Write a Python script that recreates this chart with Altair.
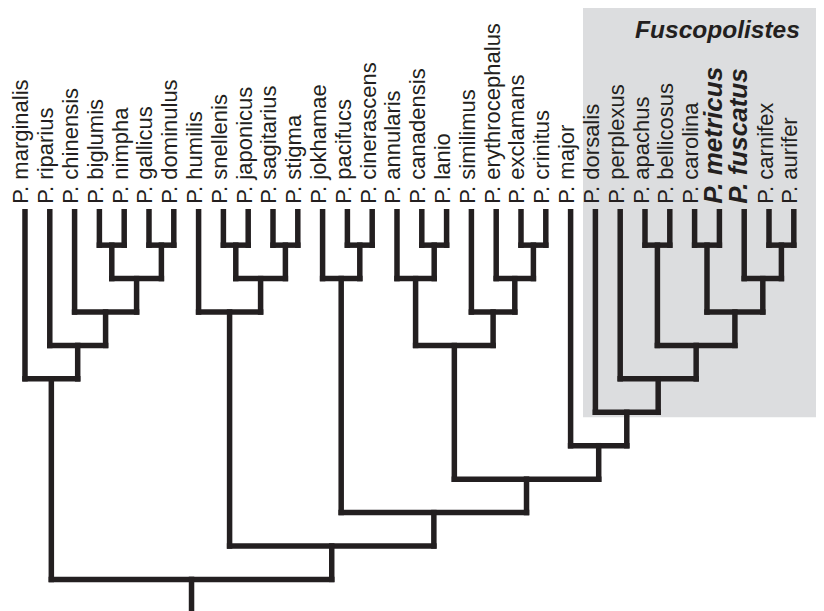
import altair as alt
import pandas as pd

# ---- data -------------------------------------------------------------
clade_A = ("marginalis", ("riparius", ("chinensis", (("biglumis", "nimpha"), ("gallicus", "dominulus")))))
clade_B = ("humilis", (("snellenis", "japonicus"), ("sagitarius", "stigma")))
clade_C = ("jokhamae", ("pacifucs", "cinerascens"))
clade_D = (("annularis", ("canadensis", "lanio")),
           ("similimus", ("erythrocephalus", ("exclamans", "crinitus"))))
clade_F = ("dorsalis", ("perplexus", (("apachus", "bellicosus"),
                                      (("carolina", "metricus"), ("fuscatus", ("carnifex", "aurifer"))))))
tree = (clade_A, (clade_B, (clade_C, (clade_D, ("major", clade_F)))))

highlight = ["metricus", "fuscatus"]
group_name = "Fuscopolistes"
genus = "P."

# ---- layout from the tree ---------------------------------------------
leaves = []
def collect(n):
    if isinstance(n, str):
        leaves.append(n)
    else:
        for c in n:
            collect(c)
collect(tree)
idx = {name: i for i, name in enumerate(leaves)}

segs = []
def layout(n):
    """returns (x, depth)"""
    if isinstance(n, str):
        return idx[n], 0
    kids = [layout(c) for c in n]
    d = max(k[1] for k in kids) + 1
    xs = [k[0] for k in kids]
    x = (min(xs) + max(xs)) / 2
    for kx, kd in kids:
        segs.append({"x": kx, "x2": kx, "y": kd, "y2": d})
    segs.append({"x": min(xs), "x2": max(xs), "y": d, "y2": d})
    return x, d

root_x, root_d = layout(tree)
segs.append({"x": root_x, "x2": root_x, "y": root_d, "y2": root_d + 1})
seg_df = pd.DataFrame(segs)

lab_df = pd.DataFrame({
    "x": list(range(len(leaves))),
    "y": [0] * len(leaves),
    "label": [f"{genus} {n}" for n in leaves],
    "bold": [n in highlight for n in leaves],
})

def leaves_of(n):
    out = []
    def c(m):
        if isinstance(m, str):
            out.append(m)
        else:
            for k in m:
                c(k)
    c(n)
    return out

def depth_of(n):
    return 0 if isinstance(n, str) else max(depth_of(c) for c in n) + 1

f_leaves = leaves_of(clade_F)
box_df = pd.DataFrame({"x": [idx[f_leaves[0]] - 0.5], "y": [depth_of(clade_F) + 0.15]})
title_df = pd.DataFrame({"x": [idx[f_leaves[-1]]], "t": [group_name]})

# ---- chart ------------------------------------------------------------
W, H = 808, 603
xs = alt.Scale(domain=[-0.685, 31.895], nice=False, zero=False)
ys = alt.Scale(domain=[-6.095, 11.945], nice=False, zero=False, reverse=True)
INK = "#231f20"
FONT = "Liberation Sans"

box = alt.Chart(box_df).mark_rect(color="#dcdddf").encode(
    x=alt.X("x:Q", scale=xs, axis=None),
    x2=alt.value(W),
    y=alt.Y("y:Q", scale=ys, axis=None),
    y2=alt.value(0),
)

title = alt.Chart(title_df).mark_text(
    font=FONT, fontSize=24.5, fontWeight="bold", fontStyle="italic",
    align="right", baseline="alphabetic", dx=6, color=INK,
).encode(x=alt.X("x:Q", scale=xs, axis=None), y=alt.value(30), text="t:N")

lines = alt.Chart(seg_df).mark_rule(
    color=INK, strokeWidth=5.5, strokeCap="square",
).encode(
    x=alt.X("x:Q", scale=xs, axis=None),
    x2="x2:Q",
    y=alt.Y("y:Q", scale=ys, axis=None),
    y2="y2:Q",
)

base_lab = alt.Chart(lab_df)
reg = base_lab.transform_filter("!datum.bold").mark_text(
    font=FONT, fontSize=22, angle=270, align="left", baseline="alphabetic",
    dx=8, dy=3.5, color=INK,
).encode(x=alt.X("x:Q", scale=xs, axis=None), y=alt.Y("y:Q", scale=ys, axis=None), text="label:N")
bold = base_lab.transform_filter("datum.bold").mark_text(
    font=FONT, fontSize=26, fontWeight="bold", fontStyle="italic", angle=270,
    align="left", baseline="alphabetic", dx=8, dy=3, color=INK,
).encode(x=alt.X("x:Q", scale=xs, axis=None), y=alt.Y("y:Q", scale=ys, axis=None), text="label:N")

chart = alt.layer(box, title, lines, reg, bold).properties(
    width=W, height=H, padding=0,
    autosize=alt.AutoSizeParams(type="none"),
).configure_view(stroke=None)

chart.save("out.html", embed_options={"renderer": "svg", "actions": False})
